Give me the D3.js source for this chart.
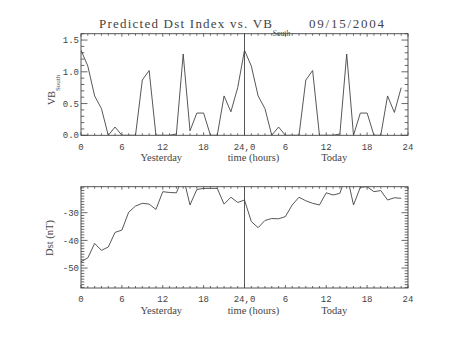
<!DOCTYPE html>
<html><head><meta charset="utf-8">
<script src="https://cdn.jsdelivr.net/npm/d3@7"></script>
<style>body{margin:0;background:#fff}svg{display:block}</style>
</head><body>
<script>
// ---------- data ----------
const hours = [0,1,2,3,4,5,6,7,8,9,10,11,12,13,14,15,16,17,18,19,20,21,22,23,
               24,25,26,27,28,29,30,31,32,33,34,35,36,37,38,39,40,41,42,43,44,45,46,47];
const vbSouth = [1.34,1.09,0.62,0.42,0,0.13,0,0,0,0.87,1.02,0,0,0,0.02,1.28,0.07,0.35,0.35,0,0,0.62,0.37,0.75,
                 1.34,1.09,0.62,0.42,0,0.13,0,0,0,0.87,1.02,0,0,0,0.02,1.28,0,0.35,0.35,0,0,0.62,0.36,0.75];
const dst = [-47.7,-46.3,-41.1,-43.6,-42.4,-37.1,-36.3,-29.8,-27.6,-26.6,-26.9,-28.8,-22.4,-22.7,-22.8,-17.0,-27.2,-21.6,-21.2,-21.2,-21.2,-26.9,-24.4,-26.3,
             -25.4,-33.2,-35.4,-32.8,-32.1,-32.2,-31.4,-27.2,-24.4,-25.7,-26.6,-27.2,-22.8,-23.6,-23.0,-16.0,-27.2,-20.8,-20.6,-22.4,-22.0,-25.4,-24.6,-24.8];
const xTickValues = [0,6,12,18,24,30,36,42,48];
const xTickLabels = ["0","6","12","18","24,0","6","12","18","24"];
const vbTickValues = [0,0.5,1.0,1.5];
const vbTickLabels = ["0.0","0.5","1.0","1.5"];
const dstTickValues = [-50,-40,-30];
const dstTickLabels = ["-50","-40","-30"];
const titleMain = "Predicted Dst Index vs. VB";
const titleSub = "South";
const titleDate = "09/15/2004";
const dayLabels = ["Yesterday","time (hours)","Today"];

// ---------- layout ----------
const W = 453, H = 340;
const left = 81, right = 408;
const ink = "#444";
const svg = d3.select("body").append("svg").attr("width",W).attr("height",H)
  .style("font-family","'Liberation Mono', monospace");
svg.append("rect").attr("width",W).attr("height",H).attr("fill","#fff");

const x = d3.scaleLinear().domain([0,48]).range([left,right]);

function panel(id, top, bottom, yDomain, yMinorStep, majorVals, majorLabels, values) {
  const y = d3.scaleLinear().domain(yDomain).range([bottom, top]);
  const g = svg.append("g");
  g.append("clipPath").attr("id",id).append("rect")
    .attr("x",left).attr("y",top).attr("width",right-left).attr("height",bottom-top);
  const line = d3.line().x((d,i)=>x(hours[i])).y(d=>y(d));
  g.append("path").datum(values).attr("d",line).attr("fill","none")
    .attr("stroke",ink).attr("stroke-width",0.9).attr("clip-path",`url(#${id})`);
  g.append("line").attr("x1",x(24)).attr("x2",x(24)).attr("y1",top).attr("y2",bottom)
    .attr("stroke",ink).attr("stroke-width",0.9);
  g.append("rect").attr("x",left).attr("y",top).attr("width",right-left).attr("height",bottom-top)
    .attr("fill","none").attr("stroke",ink).attr("stroke-width",0.9);
  const tickG = g.append("g").attr("stroke",ink).attr("stroke-width",0.8);
  const xMinor = d3.range(0,49,1);
  xMinor.forEach(h=>{
    const len = (h%6===0)?3:2;
    tickG.append("line").attr("x1",x(h)).attr("x2",x(h)).attr("y1",bottom).attr("y2",bottom-len);
    tickG.append("line").attr("x1",x(h)).attr("x2",x(h)).attr("y1",top).attr("y2",top+len);
  });
  const yMin = Math.ceil(yDomain[0]/yMinorStep-1e-6), yMax = Math.floor(yDomain[1]/yMinorStep+1e-6);
  for (let k=yMin;k<=yMax;k++){
    const v = k*yMinorStep;
    const isMajor = majorVals.some(m=>Math.abs(m-v)<1e-6);
    const len = isMajor?6.5:3.3;
    tickG.append("line").attr("x1",left).attr("x2",left+len).attr("y1",y(v)).attr("y2",y(v));
    tickG.append("line").attr("x1",right).attr("x2",right-len).attr("y1",y(v)).attr("y2",y(v));
  }
  g.selectAll("text.yl").data(majorVals).join("text").attr("class","yl")
    .attr("x",left-2).attr("y",d=>y(d)).attr("dy","0.35em").attr("text-anchor","end")
    .attr("font-size",9).attr("fill",ink).text((d,i)=>majorLabels[i]);
  g.selectAll("text.xl").data(xTickValues).join("text").attr("class","xl")
    .attr("x",d=>x(d)).attr("y",bottom+14.3).attr("text-anchor","middle")
    .attr("font-size",9).attr("fill",ink).text((d,i)=>xTickLabels[i]);
  const dayX = [161.3, 253.5, 334.2];
  g.selectAll("text.dl").data(dayLabels).join("text").attr("class","dl")
    .attr("x",(d,i)=>dayX[i]).attr("y",bottom+25.5).attr("text-anchor","middle")
    .attr("font-family","'Liberation Serif', serif")
    .attr("font-size",10.5).attr("fill",ink).text(d=>d);
  return y;
}

panel("c1", 33.7, 135.3, [0,1.6], 0.1, vbTickValues, vbTickLabels, vbSouth);
panel("c2", 186.7, 288, [-57.2,-20.6], 1, dstTickValues, dstTickLabels, dst);

const vt = svg.append("text").attr("transform","translate(55,105) rotate(-90)")
  .attr("font-family","'Liberation Serif', serif").attr("fill",ink);
vt.append("tspan").attr("font-size",10).text("VB");
vt.append("tspan").attr("font-size",7).attr("dy",5).text(titleSub);

svg.append("text").attr("transform","translate(53,238) rotate(-90)")
  .attr("text-anchor","middle").attr("font-family","'Liberation Serif', serif")
  .attr("font-size",10.5).attr("fill",ink).text("Dst (nT)");

svg.append("text").attr("x",99).attr("y",28.3).attr("font-family","'Liberation Serif', serif")
  .attr("font-size",13).attr("fill",ink).attr("textLength",173).attr("lengthAdjust","spacing")
  .text(titleMain);
svg.append("text").attr("x",272.7).attr("y",35.5).attr("font-family","'Liberation Serif', serif")
  .attr("font-size",7.5).attr("fill",ink).text(titleSub);
svg.append("text").attr("x",309).attr("y",28.3).attr("font-family","'Liberation Serif', serif")
  .attr("font-size",13).attr("fill",ink).attr("textLength",75).attr("lengthAdjust","spacing")
  .text(titleDate);
</script>
</body></html>
